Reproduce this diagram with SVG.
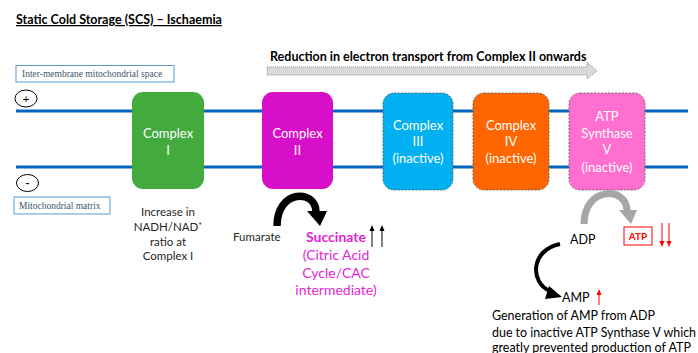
<svg xmlns="http://www.w3.org/2000/svg" width="698" height="353" viewBox="0 0 698 353">
<style>
.t{font-family:Lato,"Open Sans","Liberation Sans",sans-serif}
.w{fill:#fff;font-size:13px;text-anchor:middle}
.lbl{font-family:"Liberation Serif",serif;font-size:9.5px;fill:#44546a}
.lblbox{fill:#fff;stroke:#5b9bd5;stroke-width:1}
.mem{stroke:#0563c1;stroke-width:3}
.dash{stroke:#555;stroke-width:0.8;stroke-dasharray:2 1.5}
.dk{fill:#262626;font-size:11.5px}
.mag{fill:#e41fd6;font-size:14px;text-anchor:middle}
</style>
<defs>
<marker id="hk" markerWidth="6" markerHeight="6" refX="3" refY="3" orient="auto" markerUnits="userSpaceOnUse"><path d="M0,0.5 L6,3 L0,5.5 z" fill="#000"/></marker>
<marker id="hr" markerWidth="6" markerHeight="6" refX="3" refY="3" orient="auto" markerUnits="userSpaceOnUse"><path d="M0,0.5 L6,3 L0,5.5 z" fill="#ff0000"/></marker>
</defs>
<rect width="698" height="353" fill="#fff"/>
<text class="t" x="16" y="24" font-size="12.5" font-weight="bold" fill="#000" text-decoration="underline">Static Cold Storage (SCS) – Ischaemia</text>
<text class="t" x="270" y="61" font-size="12.5" font-weight="bold" fill="#000">Reduction in electron transport from Complex II onwards</text>
<path d="M267,67 H587 V62 L597,71 L587,79 V75 H267 Z" fill="#d9d9d9" stroke="#7f7f7f" stroke-width="0.8" stroke-dasharray="1 1"/>
<g id="ims"><rect class="lblbox" x="16" y="65.5" width="158" height="16.5"/><text class="lbl" x="22" y="77">Inter-membrane  mitochondrial  space</text></g>
<g id="plus"><ellipse cx="26" cy="98.5" rx="11" ry="8.5" fill="none" stroke="#000" stroke-width="1"/><text class="t" x="26" y="103" font-size="12" text-anchor="middle">+</text></g>
<g id="membrane"><line class="mem" x1="16" y1="111" x2="688" y2="111"/><line class="mem" x1="16" y1="167" x2="688" y2="167"/></g>
<g id="minus"><ellipse cx="27.5" cy="183" rx="11" ry="8.5" fill="none" stroke="#000" stroke-width="1"/><text class="t" x="27.5" y="187" font-size="12" text-anchor="middle" font-weight="bold">-</text></g>
<g id="matrix"><rect class="lblbox" x="14" y="197" width="96" height="17"/><text class="lbl" x="19" y="209">Mitochondrial matrix</text></g>
<g id="c1"><rect x="132" y="92" width="72" height="97" rx="11" fill="#43ab3e"/><text class="t w" x="168" y="137.5">Complex</text><text class="t w" x="168" y="154.5">I</text></g>
<g id="c2"><rect x="262" y="92" width="71" height="97" rx="11" fill="#d80fc8"/><text class="t w" x="297.5" y="137.5">Complex</text><text class="t w" x="297.5" y="154.5">II</text></g>
<g id="c3"><rect class="dash" x="383" y="93" width="70" height="97" rx="11" fill="#00b0f0"/><text class="t w" x="418" y="129.5">Complex</text><text class="t w" x="418" y="146">III</text><text class="t w" x="418" y="162.5">(inactive)</text></g>
<g id="c4"><rect class="dash" x="473" y="93" width="76" height="97" rx="11" fill="#ff6600"/><text class="t w" x="511" y="129.5">Complex</text><text class="t w" x="511" y="146">IV</text><text class="t w" x="511" y="162.5">(inactive)</text></g>
<g id="c5"><rect class="dash" x="569" y="93" width="76" height="97" rx="11" fill="#ff6fcf"/><text class="t w" x="607" y="120.5">ATP</text><text class="t w" x="607" y="137.5">Synthase</text><text class="t w" x="607" y="154">V</text><text class="t w" x="607" y="171.5">(inactive)</text></g>
<g id="nadh"><text class="t dk" text-anchor="middle"><tspan x="168" y="216">Increase in</tspan><tspan x="168" y="231">NADH/NAD⁺</tspan><tspan x="168" y="245.5">ratio at</tspan><tspan x="168" y="260">Complex I</tspan></text></g>
<g id="fumarate"><text class="t dk" x="233" y="241">Fumarate</text></g>
<g id="succinate"><text class="t mag"><tspan x="336" y="242" font-weight="bold">Succinate</tspan><tspan x="336" y="260">(Citric Acid</tspan><tspan x="336" y="277.5">Cycle/CAC</tspan><tspan x="336" y="295">intermediate)</tspan></text></g>
<g id="adp"><text class="t" x="570" y="243.5" font-size="12.5" fill="#000">ADP</text></g>
<g id="atp"><rect x="624" y="227" width="28" height="18" fill="#fff" stroke="#ff0000" stroke-width="1"/><text class="t" x="638" y="240" font-size="10" font-weight="bold" fill="#ff0000" text-anchor="middle">ATP</text></g>
<g id="amp"><text class="t" x="562" y="301.5" font-size="12.5" fill="#000">AMP</text></g>
<g id="note">
<text class="t" font-size="12.6" fill="#000" x="492" y="320" textLength="163" lengthAdjust="spacingAndGlyphs">Generation of AMP from ADP</text>
<text class="t" font-size="12.6" fill="#000" x="492" y="336.5" textLength="204" lengthAdjust="spacingAndGlyphs">due to inactive ATP Synthase V which</text>
<text class="t" font-size="12.6" fill="#000" x="492" y="351.5" textLength="199" lengthAdjust="spacingAndGlyphs">greatly prevented production of ATP</text>
</g>
<g id="connectors">
<path d="M277,226 C277,189 316,189 316,212" fill="none" stroke="#000" stroke-width="7.5"/>
<polygon points="307,211 327,211 320,226" fill="#000"/>
<path d="M584,224 C584,186 627,186 627,211" fill="none" stroke="#a6a6a6" stroke-width="7"/>
<polygon points="619,210 637,210 631,224" fill="#a6a6a6"/>
<path d="M560,244 C530,250 530,283 550,291" fill="none" stroke="#000" stroke-width="4"/>
<polygon points="562,297 549,286 545,299" fill="#000"/>
<line x1="372" y1="247" x2="372" y2="228" stroke="#000" stroke-width="1" marker-end="url(#hk)"/>
<line x1="382" y1="247" x2="382" y2="228" stroke="#000" stroke-width="1" marker-end="url(#hk)"/>
<line x1="662" y1="223" x2="662" y2="244" stroke="#ff0000" stroke-width="1" marker-end="url(#hr)"/>
<line x1="669" y1="223" x2="669" y2="244" stroke="#ff0000" stroke-width="1" marker-end="url(#hr)"/>
<line x1="599" y1="305" x2="599" y2="292" stroke="#ff0000" stroke-width="1" marker-end="url(#hr)"/>
</g>
</svg>
